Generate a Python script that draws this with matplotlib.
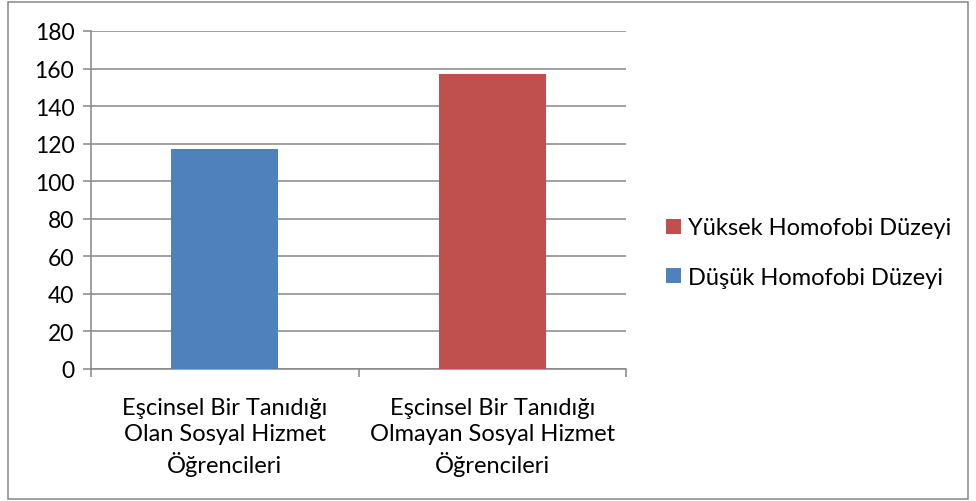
import numpy as np
import matplotlib
matplotlib.use("Agg")
from matplotlib import pyplot as plt
from matplotlib.patches import Rectangle

# chart data
categories = ["Eşcinsel Bir Tanıdığı\nOlan Sosyal Hizmet\nÖğrencileri",
              "Eşcinsel Bir Tanıdığı\nOlmayan Sosyal Hizmet\nÖğrencileri"]
dusuk = [117, 0]
yuksek = [0, 157]
series_names = ["Düşük Homofobi Düzeyi", "Yüksek Homofobi Düzeyi"]
yticks = [0, 20, 40, 60, 80, 100, 120, 140, 160, 180]

blue = "#4f81bd"
red = "#c0504d"
grid = "#868686"

plt.rcParams['font.family'] = ['Lato', 'DejaVu Sans']
fs = 17

fig = plt.figure(figsize=(9.76, 5.02), dpi=100)
ax = fig.add_axes([91 / 976, 1 - 370 / 502, 535 / 976, 338 / 502])

x = np.arange(len(categories))
b1 = ax.bar(x, dusuk, width=0.4, color=blue, zorder=3)
b2 = ax.bar(x, yuksek, bottom=dusuk, width=0.4, color=red, zorder=3)

ax.set_xlim(-0.5, 1.5)
ax.set_ylim(0, 180)
ax.set_yticks(yticks)
ax.set_yticklabels([str(t) for t in yticks], fontsize=16.5)
ax.yaxis.grid(True, color=grid, linewidth=1.1, zorder=0)
ax.set_axisbelow(True)

# category labels between boundary ticks
ax.set_xticks([-0.5, 0.5, 1.5])
ax.set_xticklabels([])
ax.set_xticks(x, minor=True)
ax.set_xticklabels(categories, minor=True, fontsize=fs, linespacing=1.32)
ax.tick_params(axis='x', which='minor', length=0, pad=20)
ax.tick_params(axis='x', which='major', length=6, width=1.1, color=grid)
ax.tick_params(axis='y', length=6, width=1.1, color=grid, pad=6)

for s in ['top', 'right']:
    ax.spines[s].set_visible(False)
for s in ['left', 'bottom']:
    ax.spines[s].set_color(grid)
    ax.spines[s].set_linewidth(1.1)

leg = ax.legend([b2, b1], [series_names[1], series_names[0]],
                loc='center left', bbox_to_anchor=(657 / 976, 0.495),
                bbox_transform=fig.transFigure, frameon=False, fontsize=fs,
                handlelength=0.6, handleheight=0.6, handletextpad=0.3,
                labelspacing=1.2, borderaxespad=0)

# outer chart border
fig.patches.append(Rectangle((8 / 976, 2 / 502), 960 / 976, 497 / 502,
                             transform=fig.transFigure, fill=False,
                             edgecolor=grid, linewidth=1.1))

fig.savefig("out.png", dpi=100)
